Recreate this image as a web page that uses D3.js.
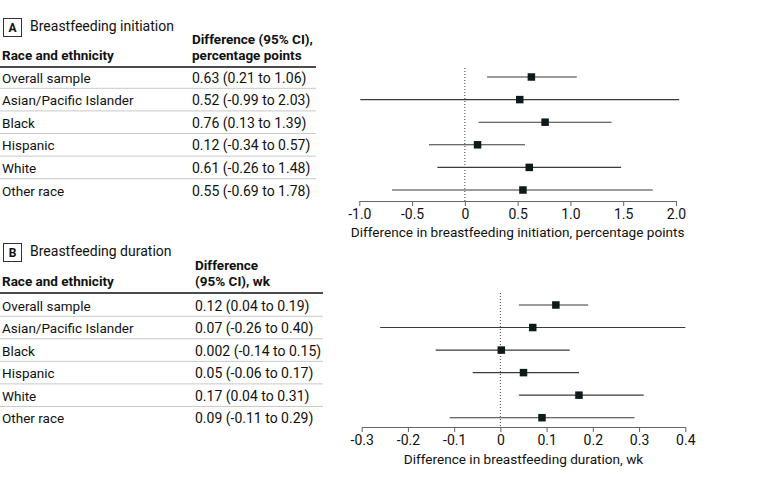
<!DOCTYPE html>
<html><head><meta charset="utf-8">
<script src="https://cdn.jsdelivr.net/npm/d3@7"></script>
<style>
body{margin:0;background:#fff;}
svg{display:block;font-family:Roboto, "Liberation Sans", sans-serif;}
</style></head>
<body><svg id="c" width="780" height="485"></svg>
<script>
const categories = ["Overall sample","Asian/Pacific Islander","Black","Hispanic","White","Other race"];

const initEst = [0.63, 0.52, 0.76, 0.12, 0.61, 0.55];
const initLo  = [0.21, -0.99, 0.13, -0.34, -0.26, -0.69];
const initHi  = [1.06, 2.03, 1.39, 0.57, 1.48, 1.78];
const initLabels = ["0.63 (0.21 to 1.06)","0.52 (-0.99 to 2.03)","0.76 (0.13 to 1.39)","0.12 (-0.34 to 0.57)","0.61 (-0.26 to 1.48)","0.55 (-0.69 to 1.78)"];
const initTicks = [-1.0, -0.5, 0, 0.5, 1.0, 1.5, 2.0];
const initTickLabels = ["-1.0","-0.5","0","0.5","1.0","1.5","2.0"];

const durEst = [0.12, 0.07, 0.002, 0.05, 0.17, 0.09];
const durLo  = [0.04, -0.26, -0.14, -0.06, 0.04, -0.11];
const durHi  = [0.19, 0.40, 0.15, 0.17, 0.31, 0.29];
const durLabels = ["0.12 (0.04 to 0.19)","0.07 (-0.26 to 0.40)","0.002 (-0.14 to 0.15)","0.05 (-0.06 to 0.17)","0.17 (0.04 to 0.31)","0.09 (-0.11 to 0.29)"];
const durTicks = [-0.3, -0.2, -0.1, 0, 0.1, 0.2, 0.3, 0.4];
const durTickLabels = ["-0.3","-0.2","-0.1","0","0.1","0.2","0.3","0.4"];

const svg = d3.select("#c");

function panel(cfg){
  const g = svg.append("g");
  const x = d3.scaleLinear().domain(cfg.domain).range(cfg.xRange);
  const y = d3.scalePoint().domain(categories).range(cfg.yRange);
  const step = y.step();

  // letter box + title
  g.append("rect").attr("x",3.5).attr("y",cfg.boxY+0.5).attr("width",18).attr("height",18)
    .attr("fill","none").attr("stroke","#333").attr("stroke-width",1);
  g.append("text").attr("x",12.5).attr("y",cfg.boxY+14).attr("text-anchor","middle")
    .attr("font-size",12).attr("font-weight","bold").attr("fill","#111").text(cfg.letter);
  g.append("text").attr("x",30).attr("y",cfg.boxY+13).attr("font-size",14).attr("fill","#111").text(cfg.title);

  // headers
  g.append("text").attr("x",2).attr("y",cfg.headY).attr("font-size",13.5).attr("font-weight","bold").attr("fill","#111").text("Race and ethnicity");
  cfg.head.forEach((h,i)=>{
    g.append("text").attr("x",cfg.valX).attr("y",cfg.headY-(cfg.head.length-1-i)*16.5).attr("font-size",13.5).attr("font-weight","bold").attr("fill","#111").text(h);
  });
  g.append("line").attr("x1",0).attr("x2",cfg.tableEnd).attr("y1",cfg.headY+7).attr("y2",cfg.headY+7)
    .attr("stroke","#111").attr("stroke-width",1.6);

  // separators
  g.selectAll(".sep").data(categories.slice(0,-1)).join("line")
    .attr("x1",0).attr("x2",cfg.tableEnd)
    .attr("y1",d=>y(d)+step/2).attr("y2",d=>y(d)+step/2)
    .attr("stroke","#c8c8c8").attr("stroke-width",1);

  // row text
  g.selectAll(".lab").data(categories).join("text")
    .attr("x",2).attr("y",d=>y(d)+5.5).attr("font-size",13.5).attr("fill","#111").text(d=>d);
  g.selectAll(".val").data(cfg.labels).join("text")
    .attr("x",cfg.valX).attr("y",(d,i)=>y(categories[i])+5.5).attr("font-size",14).attr("fill","#111").text(d=>d);

  // zero line
  g.append("line").attr("x1",x(0)).attr("x2",x(0)).attr("y1",cfg.zeroTop).attr("y2",cfg.axisY)
    .attr("stroke","#444").attr("stroke-width",1).attr("stroke-dasharray","1,2");

  // CI lines
  g.selectAll(".ci").data(categories).join("line")
    .attr("x1",(d,i)=>x(cfg.lo[i])).attr("x2",(d,i)=>x(cfg.hi[i]))
    .attr("y1",d=>y(d)).attr("y2",d=>y(d))
    .attr("stroke","#3a3a3a").attr("stroke-width",1.1);
  // points
  g.selectAll(".pt").data(categories).join("rect")
    .attr("x",(d,i)=>x(cfg.est[i])-3.75).attr("y",d=>y(d)-3.75)
    .attr("width",7.5).attr("height",7.5).attr("fill","#0c1a1a");

  // axis
  const ax = g.append("g").attr("transform",`translate(0,${cfg.axisY})`)
    .call(d3.axisBottom(x).tickValues(cfg.ticks).tickFormat((d,i)=>cfg.tickLabels[i]).tickSize(5).tickPadding(3).tickSizeOuter(0));
  ax.select(".domain").attr("stroke","#666");
  ax.selectAll(".tick line").attr("stroke","#666");
  ax.selectAll(".tick text").attr("font-size",14).attr("fill","#111").attr("font-family","Roboto, sans-serif");
  g.append("text").attr("x",(cfg.xRange[0]+cfg.xRange[1])/2).attr("y",cfg.axisY+cfg.titleOff)
    .attr("text-anchor","middle").attr("font-size",13.6).attr("fill","#111").text(cfg.axisTitle);
}

panel({letter:"A", title:"Breastfeeding initiation", boxY:18, headY:60, head:["Difference (95% CI),","percentage points"],
  valX:192, tableEnd:316, labels:initLabels, est:initEst, lo:initLo, hi:initHi,
  domain:[-1,2], xRange:[359.3,676], yRange:[77,190], axisY:201, zeroTop:68,
  ticks:initTicks, tickLabels:initTickLabels, axisTitle:"Difference in breastfeeding initiation, percentage points", titleOff:36});

panel({letter:"B", title:"Breastfeeding duration", boxY:243, headY:286, head:["Difference","(95% CI), wk"],
  valX:195, tableEnd:323, labels:durLabels, est:durEst, lo:durLo, hi:durHi,
  domain:[-0.3,0.4], xRange:[361.7,685.3], yRange:[305,417.7], axisY:427, zeroTop:293,
  ticks:durTicks, tickLabels:durTickLabels, axisTitle:"Difference in breastfeeding duration, wk", titleOff:37});
</script></body></html>
